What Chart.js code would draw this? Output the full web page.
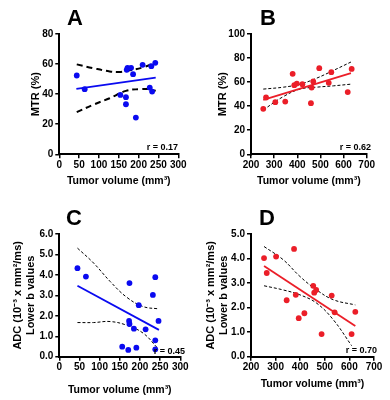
<!DOCTYPE html>
<html lang="en">
<head>
    <meta charset="UTF-8">
    <title>MTR and ADC vs tumor volume</title>
    <style>
        body {
            margin: 0;
            padding: 0;
            background-color: #fff;
            font-family: "Liberation Sans", Arial, sans-serif;
        }
        #figure {
            position: relative;
            width: 390px;
            height: 400px;
        }
        .panel {
            position: absolute;
            width: 195px;
            height: 200px;
        }
        .letter {
            position: absolute;
            font-size: 22px;
            font-weight: bold;
            line-height: 1;
            color: #000;
        }
        .rval {
            position: absolute;
            font-size: 9px;
            font-weight: bold;
            line-height: 1;
            color: #000;
            white-space: nowrap;
        }
    </style>
</head>
<body>

    <div id="figure">
        <div class="panel" style="left:0;top:0"><canvas id="chartA" width="195" height="200"></canvas></div>
        <div class="panel" style="left:195px;top:0"><canvas id="chartB" width="195" height="200"></canvas></div>
        <div class="panel" style="left:0;top:200px"><canvas id="chartC" width="195" height="200"></canvas></div>
        <div class="panel" style="left:195px;top:200px"><canvas id="chartD" width="195" height="200"></canvas></div>

        <!-- panel letters and correlation labels -->
        <div class="letter" style="left:67px;top:7px">A</div>
        <div class="letter" style="left:260px;top:7px">B</div>
        <div class="letter" style="left:66px;top:207px">C</div>
        <div class="letter" style="left:259px;top:207px">D</div>
        <div class="rval" style="right:212px;top:143px">r = 0.17</div>
        <div class="rval" style="right:19px;top:143px">r = 0.62</div>
        <div class="rval" style="right:205px;top:347px">r = 0.45</div>
        <div class="rval" style="right:13px;top:346px">r = 0.70</div>
    </div>

    <script src="https://cdn.jsdelivr.net/npm/chart.js"></script>

    <script>
        // Panel A: MTR vs tumor volume (blue group)
        const volA = [44, 64, 154, 168, 168, 193, 170, 172, 181, 186, 210, 228, 232, 234, 242];
        const mtrA = [52.4, 43.3, 39.5, 38, 33.3, 24.4, 56.2, 57.5, 57.5, 53.3, 59.5, 44.4, 58.6, 41.7, 60.8];
        const fitA = [[43, 43.5], [243, 51]];
        const upperA = [[44, 59.8], [85, 57.3], [127, 55.1], [152, 54.7], [177, 55.8], [210, 57.7], [243, 61]];
        const lowerA = [[44, 28], [85, 32.9], [127, 37.3], [168, 42.2], [201, 43.3], [227, 43.3], [243, 42.2]];

        // Panel B: MTR vs tumor volume (red group)
        const volB = [253, 265, 305, 348, 380, 387, 398, 422, 459, 462, 469, 495, 536, 547, 618, 635];
        const mtrB = [37.8, 47.2, 43.3, 43.8, 66.9, 57.5, 58.8, 58.3, 42.5, 55.5, 60.5, 71.6, 59.4, 68.3, 51.7, 71];
        const fitB = [[253, 45.3], [632, 67.5]];
        const upperB = [[253, 54.2], [340, 55.8], [412, 58.3], [484, 63.3], [556, 69.7], [632, 76.7]];
        const lowerB = [[253, 36.9], [340, 48], [412, 54.2], [484, 55.8], [556, 56.9], [632, 58.3]];

        // Panel C: ADC vs tumor volume (blue group)
        const volC = [45, 66, 174, 238, 232, 197, 246, 173, 174, 185, 214, 238, 238, 156, 171, 191];
        const adcC = [4.33, 3.92, 3.6, 3.89, 3.02, 2.52, 1.75, 1.75, 1.6, 1.37, 1.34, 0.80, 0.36, 0.49, 0.33, 0.44];
        const fitC = [[45, 3.47], [247, 1.31]];
        const upperC = [[45, 5.31], [85, 4.58], [126, 3.68], [167, 2.91], [208, 2.45], [246, 2.34]];
        const lowerC = [[45, 1.67], [85, 1.67], [126, 1.72], [167, 1.54], [208, 1.15], [242, 0.46]];

        // Panel D: ADC vs tumor volume (red group)
        const volD = [253, 264, 302, 375, 345, 382, 394, 417, 453, 457, 465, 487, 528, 540, 609, 624];
        const adcD = [4.02, 3.41, 4.08, 4.39, 2.30, 2.52, 1.57, 1.77, 2.89, 2.61, 2.72, 0.92, 2.49, 1.81, 0.92, 1.83];
        const fitD = [[253, 3.70], [624, 1.25]];
        const upperD = [[253, 4.49], [331, 3.95], [399, 3.27], [467, 2.72], [535, 2.32], [624, 2.11]];
        const lowerD = [[253, 2.89], [331, 2.72], [399, 2.52], [467, 2.18], [535, 1.50], [609, 0.45]];

        const blue = 'rgb(10, 10, 240)';
        const red = 'rgb(235, 30, 40)';
        const xTitle = 'Tumor volume (mm³)';
        const adcTitle = ['ADC (10⁻³ x mm²/ms)', 'Lower b values'];

        const toXY = pairs => pairs.map(p => ({ x: p[0], y: p[1] }));

        function drawPanel(id, p) {
            const ctx = document.getElementById(id).getContext('2d');
            const points = p.xs.map((x, i) => ({ x: x, y: p.ys[i] }));
            const dash = p.thickDash ? [6, 4] : [3, 2];
            const dashWidth = p.thickDash ? 2 : 1;
            const ciLine = data => ({
                type: 'line', data: toXY(data), borderColor: '#000', borderWidth: dashWidth,
                borderDash: dash, pointRadius: 0, tension: 0.4, fill: false
            });
            return new Chart(ctx, {
                type: 'scatter',
                data: {
                    datasets: [
                        { data: points, backgroundColor: p.color, borderWidth: 0, pointRadius: 2.9, pointHoverRadius: 2.9 },
                        { type: 'line', data: toXY(p.fit), borderColor: p.color, borderWidth: 1.8, pointRadius: 0, fill: false },
                        ciLine(p.upper),
                        ciLine(p.lower)
                    ]
                },
                options: {
                    responsive: false,
                    animation: false,
                    devicePixelRatio: 1,
                    layout: { padding: { left: 0, top: 34, right: p.padRight, bottom: 0 } },
                    plugins: { legend: { display: false }, tooltip: { enabled: false } },
                    scales: {
                        x: {
                            type: 'linear', min: p.xMin, max: p.xMax,
                            afterFit: s => { s.height = p.xHeight; },
                            border: { display: true, color: '#000', width: 2 },
                            grid: { drawOnChartArea: false, drawTicks: true, tickLength: 4, color: '#000', lineWidth: 1.5 },
                            ticks: { stepSize: p.xStep, color: '#000', padding: 1, maxRotation: 0,
                                     font: { family: 'Liberation Sans', size: 10, weight: 'bold' } },
                            title: { display: true, text: xTitle, color: '#000', padding: { top: 0, bottom: p.xTitlePad },
                                     font: { family: 'Liberation Sans', size: 10.5, weight: 'bold' } }
                        },
                        y: {
                            type: 'linear', min: 0, max: p.yMax,
                            afterFit: s => { s.width = p.yWidth; },
                            border: { display: true, color: '#000', width: 2 },
                            grid: { drawOnChartArea: false, drawTicks: true, tickLength: 4, color: '#000', lineWidth: 1.5 },
                            ticks: { stepSize: p.yStep, color: '#000', padding: 2,
                                     callback: v => p.decimals ? v.toFixed(1) : v,
                                     font: { family: 'Liberation Sans', size: 10, weight: 'bold' } },
                            title: { display: true, text: p.yTitle, color: '#000', padding: { top: p.yTitlePad, bottom: 0 },
                                     font: { family: 'Liberation Sans', size: 11, weight: 'bold', lineHeight: 1.15 } }
                        }
                    }
                }
            });
        }

        drawPanel('chartA', { xs: volA, ys: mtrA, fit: fitA, upper: upperA, lower: lowerA, color: blue, thickDash: true,
            xMin: 0, xMax: 300, xStep: 50, yMax: 80, yStep: 20, decimals: false, yTitle: 'MTR (%)', yTitlePad: 29.5,
            yWidth: 59.3, xHeight: 45.7, padRight: 16.7, xTitlePad: 13 });
        drawPanel('chartB', { xs: volB, ys: mtrB, fit: fitB, upper: upperB, lower: lowerB, color: red, thickDash: false,
            xMin: 200, xMax: 700, xStep: 100, yMax: 100, yStep: 20, decimals: false, yTitle: 'MTR (%)', yTitlePad: 22,
            yWidth: 56, xHeight: 45.7, padRight: 23.3, xTitlePad: 13 });
        drawPanel('chartC', { xs: volC, ys: adcC, fit: fitC, upper: upperC, lower: lowerC, color: blue, thickDash: false,
            xMin: 0, xMax: 300, xStep: 50, yMax: 6, yStep: 1, decimals: true, yTitle: adcTitle, yTitlePad: 12,
            yWidth: 59.3, xHeight: 43.3, padRight: 14.7, xTitlePad: 3.5 });
        drawPanel('chartD', { xs: volD, ys: adcD, fit: fitD, upper: upperD, lower: lowerD, color: red, thickDash: false,
            xMin: 200, xMax: 700, xStep: 100, yMax: 5, yStep: 1, decimals: true, yTitle: adcTitle, yTitlePad: 10,
            yWidth: 56, xHeight: 43.3, padRight: 16, xTitlePad: 9.5 });
    </script>

</body>
</html>
